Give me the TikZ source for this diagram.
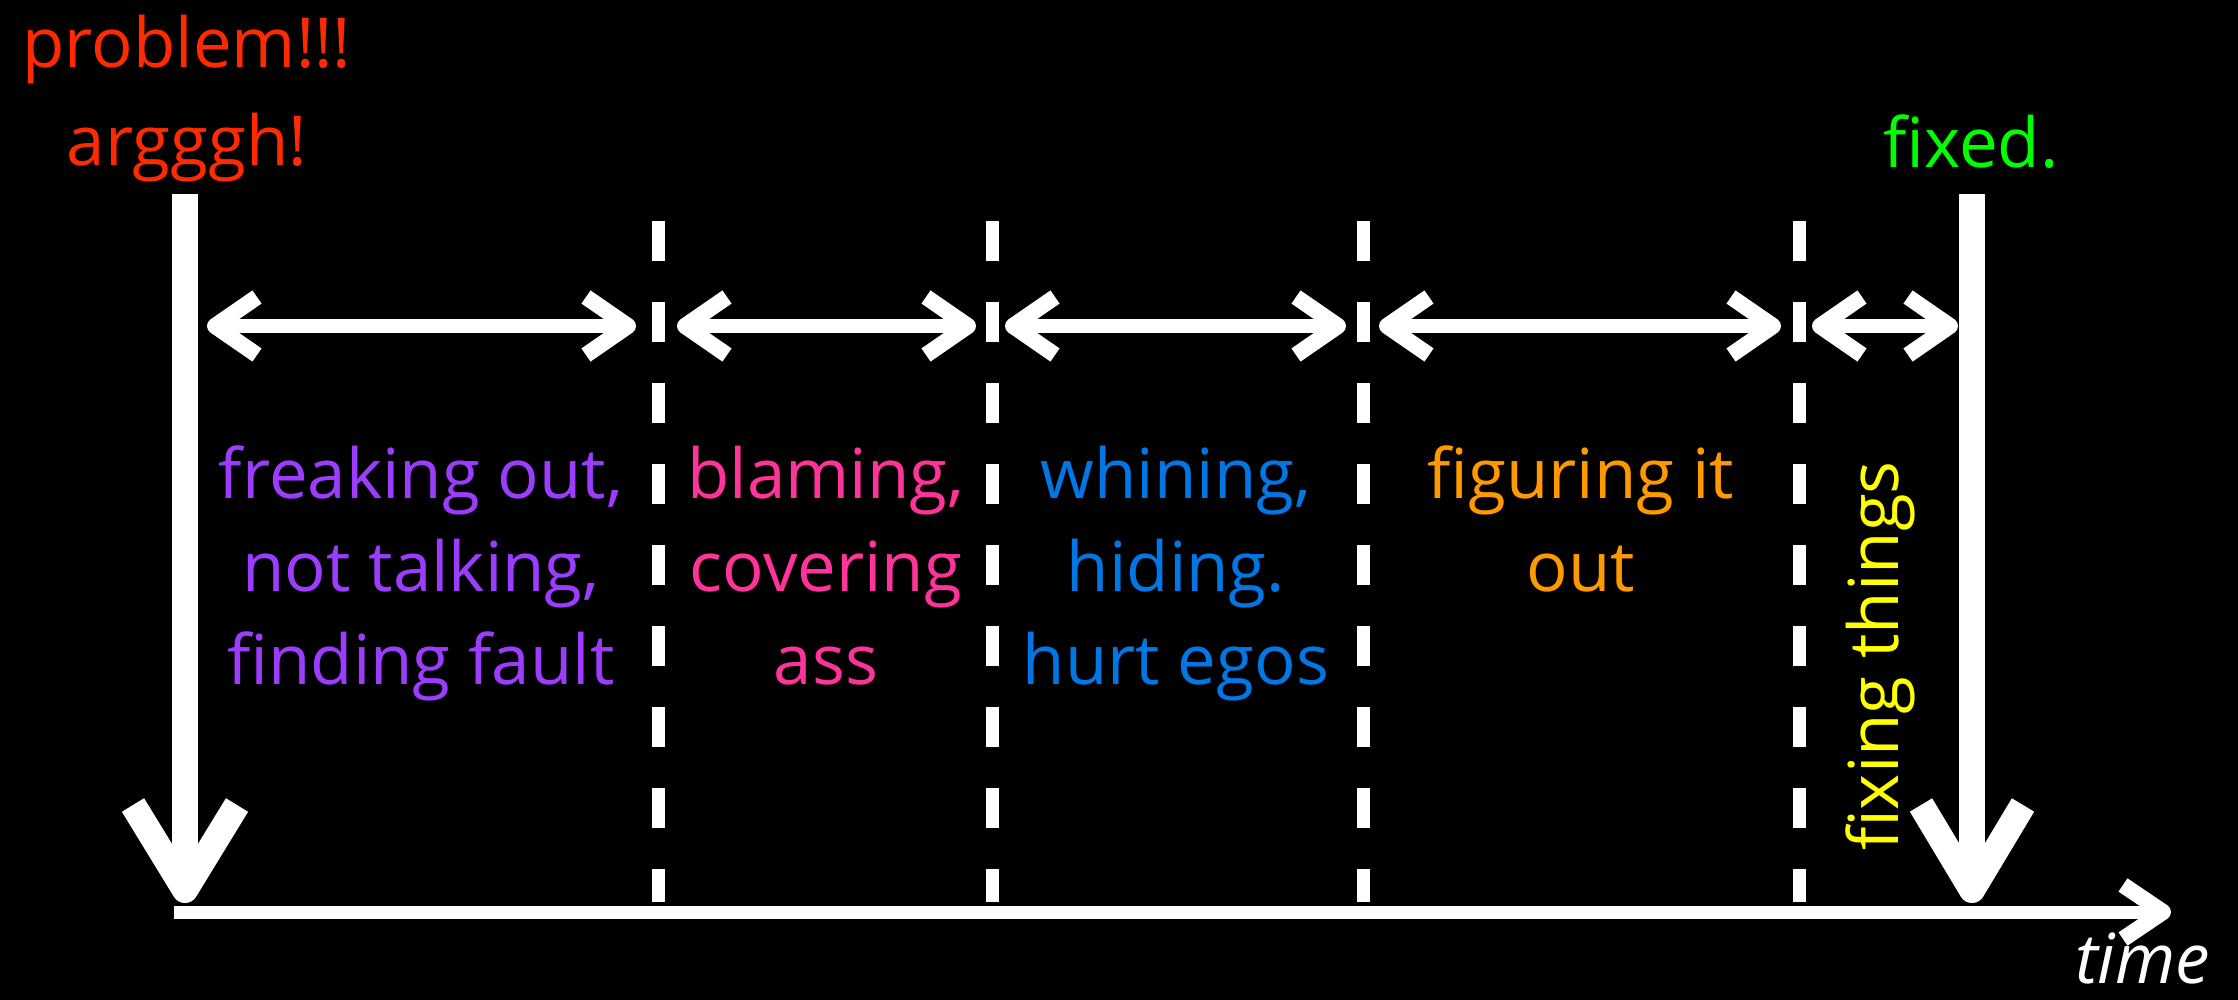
\documentclass[tikz,border=0pt]{standalone}
\usepackage{fontspec}
\setmainfont{Open Sans}
\definecolor{cred}{HTML}{FF2A00}
\definecolor{cgreen}{HTML}{00FF00}
\definecolor{cpurple}{HTML}{9B3CFF}
\definecolor{cpink}{HTML}{FF3399}
\definecolor{cblue}{HTML}{0077E5}
\definecolor{corange}{HTML}{FF9900}
\definecolor{cyellow}{HTML}{FFFF00}
\begin{document}
\begin{tikzpicture}[x=1pt,y=-1pt,
  lab/.style={font=\fontsize{69}{93}\selectfont, align=center, inner sep=0pt},
  bigline/.style={white, line width=26pt, line cap=butt},
  bighead/.style={white, line width=26pt, line join=round, line cap=butt},
  thinline/.style={white, line width=13pt, line cap=butt},
  smallhead/.style={white, line width=16pt, line join=round, line cap=butt},
  dashline/.style={white, line width=13pt, line cap=butt, dash pattern=on 40pt off 41pt}]
\fill[black] (0,0) rectangle (2238,1000);
\useasboundingbox (0,0) rectangle (2238,1000);

% dashed separators
\foreach \x [count=\i] in {658,992,1363,1799} {
  \coordinate (st\i) at (\x,221);
  \coordinate (sb\i) at (\x,902);
  \draw[dashline] (st\i) -- (sb\i);
}

% double arrows
\foreach \a/\b [count=\i] in {215/628, 685/968, 1013/1338, 1387/1773, 1820/1950} {
  \coordinate (dl\i) at (\a,326);
  \coordinate (dr\i) at (\b,326);
  \draw[thinline] (dl\i) -- (dr\i);
  \draw[smallhead] (dl\i) ++(42,-29) -- (dl\i) -- ++(42,29);
  \draw[smallhead] (dr\i) ++(-42,-29) -- (dr\i) -- ++(-42,29);
}

% time axis
\coordinate (A0) at (174,912);
\coordinate (A1) at (2163,912);
\draw[thinline] (A0) -- (A1);
\draw[smallhead] (A1) ++(-40,-27) -- (A1) -- ++(-40,27);

% big vertical arrows
\coordinate (Ltop) at (185,194);
\coordinate (Lvx) at (185,890);
\coordinate (Rtop) at (1972,194);
\coordinate (Rvx) at (1972,890);
\draw[bigline] (Ltop) -- (Lvx);
\draw[bighead] (Lvx) ++(-52,-85) -- (Lvx) -- ++(52,-85);
\draw[bigline] (Rtop) -- (Rvx);
\draw[bighead] (Rvx) ++(-51,-85) -- (Rvx) -- ++(51,-85);

% texts
\node[lab, text=cred, anchor=north, font=\fontsize{69}{98}\selectfont] (pb) at (187,15) {problem!!!\\argggh!};
\node[lab, text=cgreen, anchor=base] (fx) at (1971,168) {fixed.};
\node[lab, text=cpurple, anchor=north] (t1) at (421,446) {freaking out,\\not talking,\\finding fault};
\node[lab, text=cpink, anchor=north] (t2) at (826,446) {blaming,\\covering\\ass};
\node[lab, text=cblue, anchor=north] (t3) at (1176,446) {whining,\\hiding.\\hurt egos};
\node[lab, text=corange, anchor=north] (t4) at (1581,446) {figuring it\\out};
\node[lab, text=cyellow, rotate=90, anchor=base] (t5) at (1898,656) {fixing things};
\node[lab, text=white, anchor=base east, font=\fontsize{69}{80}\selectfont\itshape] (tm) at (2210,983) {time};
\end{tikzpicture}
\end{document}
